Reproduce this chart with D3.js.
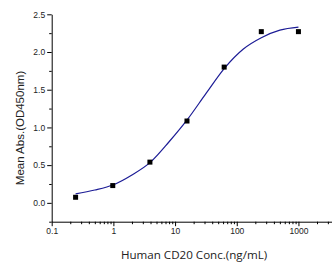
<!DOCTYPE html>
<html>
<head>
<meta charset="utf-8">
<script src="https://cdn.jsdelivr.net/npm/d3@7"></script>
<style>
  body { margin: 0; background: #fff; }
  svg { display: block; }
  .axis path, .axis line { stroke: #000; }
  .axis text { font-family: "Liberation Sans", Arial, sans-serif; font-size: 8.5px; fill: #222; }
</style>
</head>
<body>
<div id="chart"></div>
<script>
// measured points
const conc = [0.244, 0.977, 3.91, 15.6, 62.5, 250, 1000];
const absorb = [0.074, 0.229, 0.54, 1.085, 1.80, 2.27, 2.27];

// fitted curve
const fitConc = [0.244, 0.5, 1, 2, 4, 8, 16, 32, 64, 128, 250, 500, 1000];
const fitAbs = [0.12, 0.17, 0.24, 0.37, 0.54, 0.81, 1.11, 1.455, 1.79, 2.04, 2.19, 2.29, 2.33];

const xTicks = [0.1, 1, 10, 100, 1000];
const yTicks = [0, 0.5, 1.0, 1.5, 2.0, 2.5];

const width = 332, height = 269;
const svg = d3.select("#chart").append("svg")
    .attr("width", width)
    .attr("height", height);

const x = d3.scaleLog().domain([0.1, 3500]).range([51.7, 332]);
const y = d3.scaleLinear().domain([-0.25, 2.5]).range([221.7, 14.3]);

// minor ticks
const xMinor = [];
for (let e = -1; e <= 3; e++) {
    for (let k = 2; k <= 9; k++) {
        const v = k * Math.pow(10, e);
        if (v < 3500) xMinor.push(v);
    }
}
const yMinor = d3.range(-0.25, 2.5, 0.5);

svg.append("g")
    .attr("class", "axis")
    .attr("transform", `translate(0,${y.range()[0]})`)
    .call(d3.axisBottom(x).tickValues(xMinor).tickSize(2.5).tickFormat(""))
    .call(g => g.select(".domain").remove());

svg.append("g")
    .attr("class", "axis")
    .attr("transform", `translate(0,${y.range()[0]})`)
    .call(d3.axisBottom(x).tickValues(xTicks).tickSize(4.5).tickSizeOuter(0)
        .tickFormat(d => String(d)))
    .call(g => g.selectAll("text").attr("dy", "0.6em").attr("y", 7));

svg.append("g")
    .attr("class", "axis")
    .attr("transform", `translate(${x.range()[0]},0)`)
    .call(d3.axisLeft(y).tickValues(yMinor).tickSize(2.5).tickFormat(""))
    .call(g => g.select(".domain").remove());

svg.append("g")
    .attr("class", "axis")
    .attr("transform", `translate(${x.range()[0]},0)`)
    .call(d3.axisLeft(y).tickValues(yTicks).tickSize(4.5).tickSizeOuter(0)
        .tickFormat(d3.format(".1f")))
    .call(g => g.selectAll("text").attr("x", -6.5));

// fitted curve
const line = d3.line()
    .x((d, i) => x(fitConc[i]))
    .y(d => y(d))
    .curve(d3.curveMonotoneX);

svg.append("path")
    .datum(fitAbs)
    .attr("fill", "none")
    .attr("stroke", "#1c1c96")
    .attr("stroke-width", 1.2)
    .attr("d", line);

// markers
svg.selectAll(".pt")
    .data(absorb)
    .enter().append("rect")
    .attr("class", "pt")
    .attr("x", (d, i) => x(conc[i]) - 2.5)
    .attr("y", d => y(d) - 2.5)
    .attr("width", 5)
    .attr("height", 5)
    .attr("fill", "#000");

// axis titles
svg.append("text")
    .attr("x", 194)
    .attr("y", 259)
    .attr("text-anchor", "middle")
    .style("font-family", "'Open Sans', sans-serif")
    .style("font-size", "11.6px")
    .style("fill", "#222")
    .text("Human CD20 Conc.(ng/mL)");

svg.append("text")
    .attr("transform", "translate(24,128) rotate(-90)")
    .attr("text-anchor", "middle")
    .style("font-family", "'Liberation Sans', Arial, sans-serif")
    .style("font-size", "11.5px")
    .style("fill", "#222")
    .text("Mean Abs.(OD450nm)");
</script>
</body>
</html>
